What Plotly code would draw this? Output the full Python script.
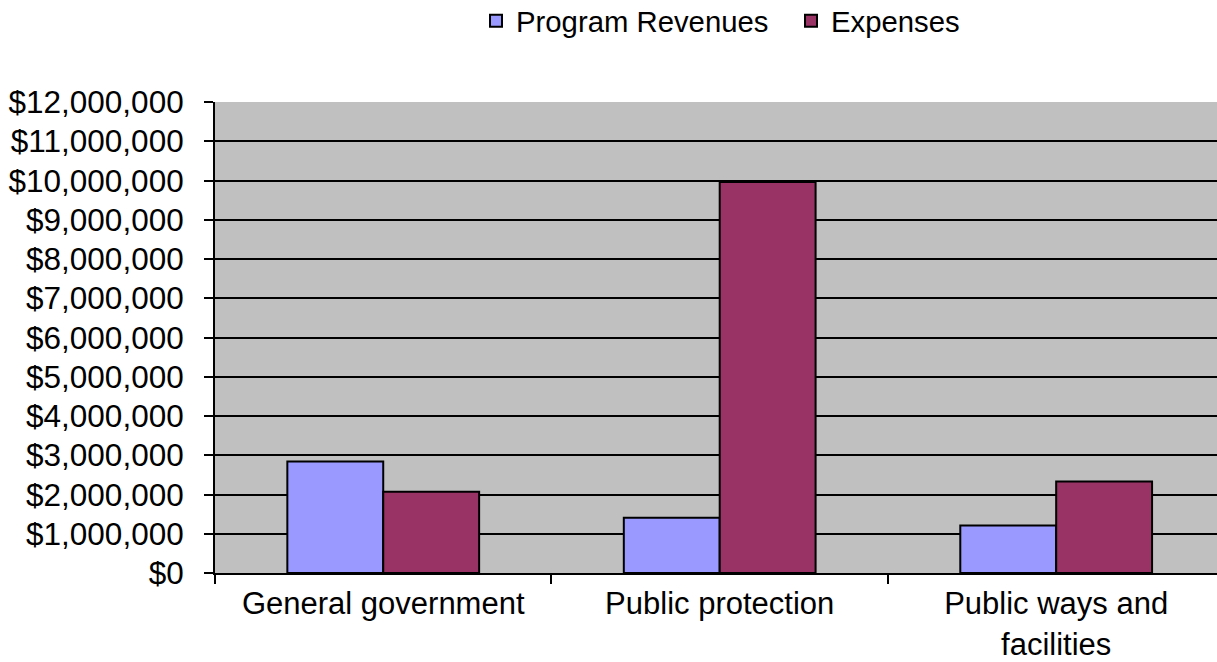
import plotly.graph_objects as go

categories = ["General government", "Public protection", "Public ways and<br>facilities"]
program_revenues = [2840000, 1410000, 1210000]
expenses = [2070000, 9960000, 2330000]
y_tick_values = [0, 1000000, 2000000, 3000000, 4000000, 5000000, 6000000,
                 7000000, 8000000, 9000000, 10000000, 11000000, 12000000]
y_tick_labels = ["$0", "$1,000,000", "$2,000,000", "$3,000,000", "$4,000,000",
                 "$5,000,000", "$6,000,000", "$7,000,000", "$8,000,000",
                 "$9,000,000", "$10,000,000", "$11,000,000", "$12,000,000"]

font_family = "Liberation Sans, Arial, sans-serif"

fig = go.Figure()
fig.add_trace(go.Bar(
    name="Program Revenues", x=categories, y=program_revenues,
    marker=dict(color="#9999FF", line=dict(color="#000000", width=2)),
))
fig.add_trace(go.Bar(
    name="Expenses", x=categories, y=expenses,
    marker=dict(color="#993366", line=dict(color="#000000", width=2)),
))

fig.update_layout(
    width=1217, height=662,
    margin=dict(l=215, r=0, t=102, b=89, autoexpand=False),
    paper_bgcolor="#FFFFFF",
    plot_bgcolor="#C0C0C0",
    barmode="group",
    bargap=0.43,
    bargroupgap=0,
    font=dict(family=font_family, size=31.5, color="#000000"),
    legend=dict(
        orientation="h",
        x=0.2605, xanchor="left",
        y=1.1715, yanchor="middle",
        font=dict(size=29.3),
        entrywidth=270,
        bgcolor="rgba(0,0,0,0)",
    ),
    showlegend=True,
)

fig.update_xaxes(
    range=[-0.5, 2.478],
    showline=True, linecolor="#000000", linewidth=2,
    ticks="outside", tickson="boundaries", ticklen=9, tickwidth=2, tickcolor="#000000",
    showgrid=False,
    automargin=False,
    ticklabelstandoff=2,
    tickfont=dict(size=31),
)

fig.update_yaxes(
    range=[0, 12000000],
    tickvals=y_tick_values,
    ticktext=y_tick_labels,
    showline=True, linecolor="#000000", linewidth=2,
    ticks="outside", ticklen=9, tickwidth=2, tickcolor="#000000",
    showgrid=True, gridcolor="#000000", gridwidth=1.5,
    zeroline=False,
    automargin=False,
    ticklabelstandoff=14,
    tickfont=dict(size=31.5),
)

fig.write_html("out.html")
